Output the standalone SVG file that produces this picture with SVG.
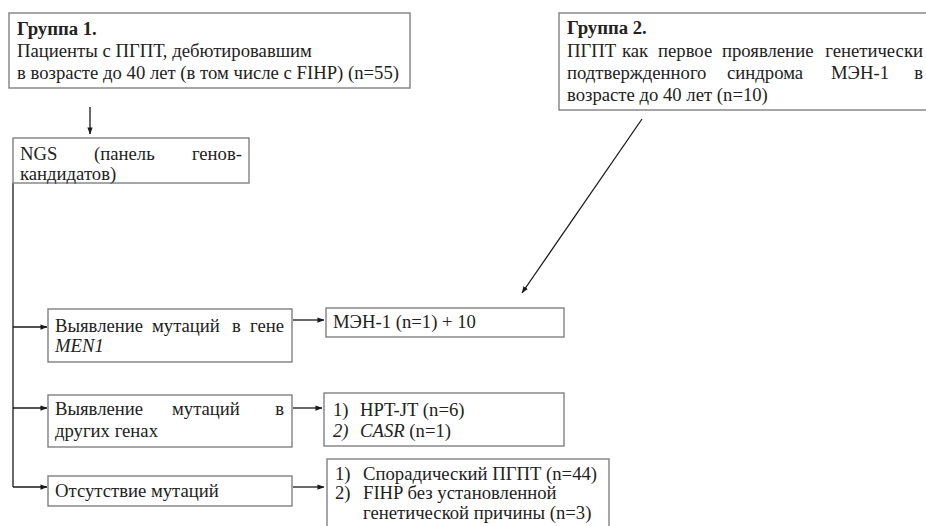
<svg xmlns="http://www.w3.org/2000/svg" width="926" height="526" viewBox="0 0 926 526">
  <defs>
    <marker id="arrow" viewBox="0 0 8 8" refX="7.5" refY="4" markerWidth="7" markerHeight="7" markerUnits="userSpaceOnUse" orient="auto">
      <path d="M0,1 L8,4 L0,7 Z" fill="#1a1a1a"/>
    </marker>
    <style>
      .box { fill: #ffffff; stroke: #808080; stroke-width: 1.4; }
      .t { font-size: 18.7px; fill: #222222; }
      .b { font-weight: bold; }
      .i { font-style: italic; }
      .end { text-anchor: end; }
      .line { fill: none; stroke: #1a1a1a; stroke-width: 1.3; }
    </style>
  </defs>
  <rect width="926" height="526" fill="#ffffff"/>

  <!-- connectors -->
  <g id="connectors">
    <line class="line" x1="90" y1="107" x2="90" y2="134" marker-end="url(#arrow)"/>
    <polyline class="line" points="13,183 13,487"/>
    <line class="line" x1="13" y1="327" x2="47" y2="327" marker-end="url(#arrow)"/>
    <line class="line" x1="13" y1="408" x2="47" y2="408" marker-end="url(#arrow)"/>
    <line class="line" x1="13" y1="487" x2="47" y2="487" marker-end="url(#arrow)"/>
    <line class="line" x1="293" y1="320" x2="324" y2="320" marker-end="url(#arrow)"/>
    <line class="line" x1="293" y1="408" x2="322" y2="408" marker-end="url(#arrow)"/>
    <line class="line" x1="293" y1="487" x2="324" y2="487" marker-end="url(#arrow)"/>
    <line class="line" x1="642" y1="119" x2="522" y2="293" marker-end="url(#arrow)"/>
  </g>

  <g font-family="Liberation Serif, serif">
    <!-- group 1 -->
    <g id="group1">
      <rect class="box" x="9" y="13" width="401" height="75"/>
      <text class="t b" x="17" y="35">Группа 1.</text>
      <text class="t" x="17" y="57">Пациенты с ПГПТ, дебютировавшим</text>
      <text class="t" x="17" y="79" textLength="382" lengthAdjust="spacing">в возрасте до 40 лет (в том числе с FIHP) (n=55)</text>
    </g>

    <!-- group 2 (justified lines set word by word) -->
    <g id="group2">
      <rect class="box" x="559" y="13" width="380" height="97"/>
      <text class="t b" x="567" y="34">Группа 2.</text>
      <text class="t" y="57"><tspan x="567">ПГПТ</tspan><tspan x="622">как</tspan><tspan x="658">первое</tspan><tspan x="722">проявление</tspan><tspan x="923" class="end">генетически</tspan></text>
      <text class="t" y="79"><tspan x="567">подтвержденного</tspan><tspan x="727">синдрома</tspan><tspan x="831">МЭН-1</tspan><tspan x="923" class="end">в</tspan></text>
      <text class="t" x="567" y="101">возрасте до 40 лет (n=10)</text>
    </g>

    <!-- NGS -->
    <g id="ngs">
      <rect class="box" x="13" y="138" width="236" height="45"/>
      <text class="t" y="160"><tspan x="20">NGS</tspan><tspan x="94">(панель</tspan><tspan x="242" class="end">генов-</tspan></text>
      <text class="t" x="20" y="180">кандидатов)</text>
    </g>

    <!-- MEN1 branch -->
    <g id="men1">
      <rect class="box" x="48" y="309" width="244" height="53"/>
      <text class="t" y="332"><tspan x="55">Выявление</tspan><tspan x="152">мутаций</tspan><tspan x="232">в</tspan><tspan x="284" class="end">гене</tspan></text>
      <text class="t i" x="55" y="352">MEN1</text>
    </g>

    <!-- other genes branch -->
    <g id="other-genes">
      <rect class="box" x="48" y="395" width="244" height="52"/>
      <text class="t" y="415"><tspan x="55">Выявление</tspan><tspan x="172">мутаций</tspan><tspan x="284" class="end">в</tspan></text>
      <text class="t" x="55" y="437">других генах</text>
    </g>

    <!-- no mutations branch -->
    <g id="no-mutations">
      <rect class="box" x="48" y="476" width="244" height="30"/>
      <text class="t" x="55" y="497">Отсутствие мутаций</text>
    </g>

    <!-- results -->
    <g id="result-men1">
      <rect class="box" x="326" y="308" width="238" height="29"/>
      <text class="t" x="333" y="328">МЭН-1 (n=1) + 10</text>
    </g>

    <g id="result-other">
      <rect class="box" x="324" y="393" width="240" height="53"/>
      <text class="t" x="333" y="416">1)</text>
      <text class="t" x="360" y="416">HPT-JT (n=6)</text>
      <text class="t i" x="333" y="437">2)</text>
      <text class="t" x="360" y="437"><tspan class="i">CASR</tspan> (n=1)</text>
    </g>

    <g id="result-none">
      <rect class="box" x="327" y="459" width="282" height="80"/>
      <text class="t" x="335" y="480">1)</text>
      <text class="t" x="363" y="480">Спорадический ПГПТ (n=44)</text>
      <text class="t" x="335" y="499">2)</text>
      <text class="t" x="363" y="499">FIHP без установленной</text>
      <text class="t" x="363" y="519">генетической причины (n=3)</text>
    </g>
  </g>
</svg>
